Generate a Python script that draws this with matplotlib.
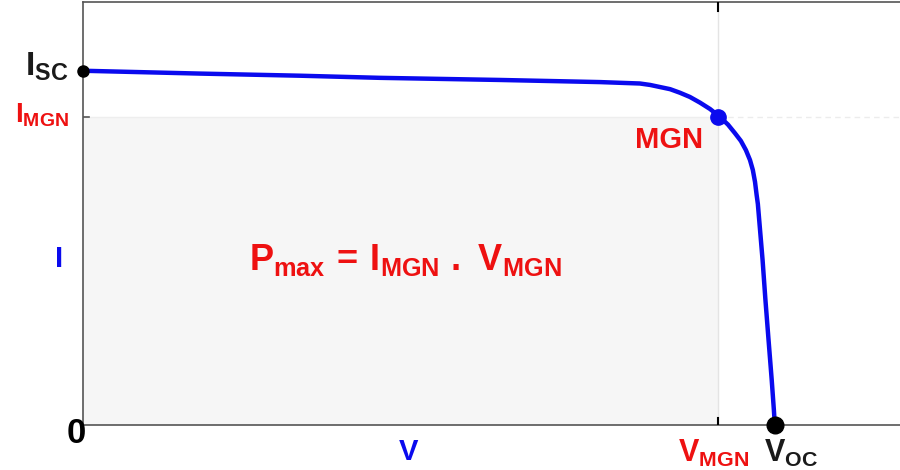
import matplotlib
matplotlib.use("Agg")
import matplotlib.pyplot as plt
from matplotlib.patches import Rectangle

# ---- data (V in volts, I in amps) ----
voltage = [0.0, 3.72, 6.90, 9.44, 13.26, 16.44, 17.07, 17.71, 18.03, 18.35,
           18.67, 18.98, 19.30, 19.62, 19.94, 20.25, 20.51, 20.73, 20.92,
           21.08, 21.21, 21.30, 21.37, 21.42, 21.46, 21.61, 21.70, 21.80,
           21.90, 21.97, 22.0]
current = [5.0, 4.96, 4.93, 4.90, 4.87, 4.84, 4.83, 4.82, 4.80, 4.77,
           4.74, 4.69, 4.63, 4.55, 4.46, 4.35, 4.24, 4.12, 4.01,
           3.88, 3.74, 3.60, 3.43, 3.25, 3.12, 2.33, 1.77, 1.20,
           0.64, 0.21, 0.0]
i_sc = 5.0
v_oc = 22.0
v_mgn = 20.2
i_mgn = 4.35

plt.rcParams['mathtext.fontset'] = 'custom'
plt.rcParams['mathtext.bf'] = 'Liberation Sans:bold'
plt.rcParams['mathtext.rm'] = 'Liberation Sans:bold'
plt.rcParams['mathtext.it'] = 'Liberation Sans:bold'
plt.rcParams['font.family'] = ['Liberation Sans', 'DejaVu Sans']

fig = plt.figure(figsize=(9, 4.7), dpi=100)
ax = fig.add_axes([0.0922, 0.0957, 0.9078, 0.9])
ax.set_xlim(0, 25.98)
ax.set_ylim(0, 5.97)

# shaded max power rectangle
ax.add_patch(Rectangle((0, 0), v_mgn, i_mgn, facecolor='#f6f6f6',
                       edgecolor='none', zorder=0))
# guide lines
ax.plot([v_mgn, v_mgn], [0, 5.97], color='#e4e4e4', lw=1, zorder=1)
ax.plot([v_mgn, 25.98], [i_mgn, i_mgn], color='#ececec', lw=1,
        ls=(0, (4, 3)), zorder=1)
ax.plot([0, v_mgn], [i_mgn, i_mgn], color='#eeeeee', lw=1, zorder=1)

# I-V curve
ax.plot(voltage, current, color='#0a0aee', lw=3.2, zorder=3,
        solid_capstyle='round', solid_joinstyle='round', clip_on=False)
ax.plot([v_mgn], [i_mgn], 'o', color='#0a0aee', ms=11, zorder=4, clip_on=False)
ax.plot([0], [i_sc], 'o', color='black', ms=8, zorder=4, clip_on=False)
ax.plot([v_oc], [0], 'o', color='black', ms=12, zorder=4, clip_on=False)

# spines
for s in ['left', 'top', 'bottom']:
    ax.spines[s].set_color('#555555')
    ax.spines[s].set_linewidth(1.2)
ax.spines['right'].set_visible(False)
ax.set_xticks([])
ax.set_yticks([])

# small ticks
ax.plot([v_mgn, v_mgn], [0, 0.1], color='black', lw=1.5, zorder=5)
ax.plot([v_mgn, v_mgn], [5.85, 5.97], color='black', lw=1.5, zorder=5)
ax.plot([0, 0.2], [i_mgn, i_mgn], color='#555555', lw=1.2, zorder=5)

# labels
ax.text(-0.45, i_sc + 0.05, r'$\mathbf{I_{SC}}$', color='#1a1a1a', fontsize=24,
        ha='right', va='center')
ax.text(-0.45, i_mgn + 0.02, r'$\mathbf{I_{MGN}}$', color='#ee1111', fontsize=20,
        ha='right', va='center')
ax.text(-0.75, 2.35, 'I', color='#0a0aee', fontsize=21, fontweight='bold',
        ha='center', va='center')
ax.text(-0.2, -0.12, '0', color='black', fontsize=25, fontweight='bold',
        ha='center', va='center')
ax.text(10.35, -0.38, 'V', color='#0a0aee', fontsize=21, fontweight='bold',
        ha='center', va='center')
ax.text(v_mgn - 0.15, -0.40, r'$\mathbf{V_{MGN}}$', color='#ee1111', fontsize=22,
        ha='center', va='center')
ax.text(v_oc + 0.5, -0.40, r'$\mathbf{V_{OC}}$', color='#1a1a1a', fontsize=22,
        ha='center', va='center')
ax.text(18.65, 4.02, 'MGN', color='#ee1111', fontsize=21, fontweight='bold',
        ha='center', va='center')
ax.text(10.25, 2.33, r'$\mathbf{P_{max}\,=\,I_{MGN}\ .\ V_{MGN}}$',
        color='#ee1111', fontsize=26, ha='center', va='center')

fig.savefig('out.png', dpi=100)
